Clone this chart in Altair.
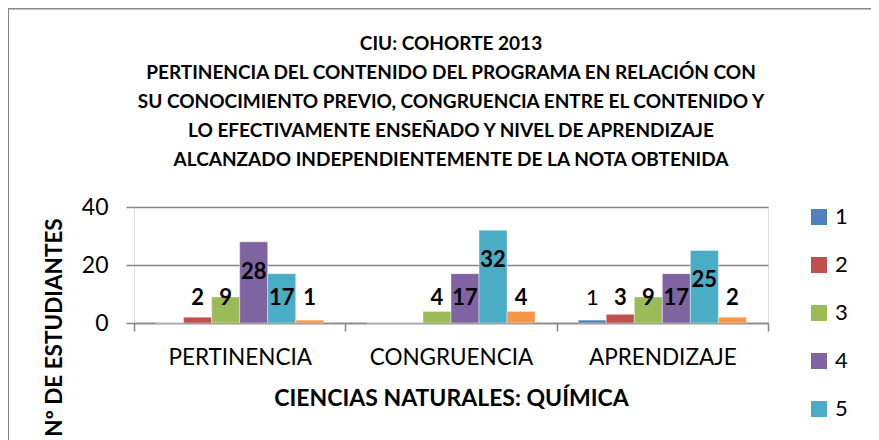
import altair as alt
import pandas as pd

categories = ["PERTINENCIA", "CONGRUENCIA", "APRENDIZAJE"]
series = ["1", "2", "3", "4", "5", "6"]
s1 = [0, 0, 1]
s2 = [2, 0, 3]
s3 = [9, 4, 9]
s4 = [28, 17, 17]
s5 = [17, 32, 25]
s6 = [1, 4, 2]
colors = ["#4F81BD", "#C0504D", "#9BBB59", "#8064A2", "#4BACC6", "#F79646"]

title_lines = [
    "CIU: COHORTE 2013",
    "PERTINENCIA DEL CONTENIDO DEL PROGRAMA EN RELACIÓN CON",
    "SU CONOCIMIENTO PREVIO, CONGRUENCIA ENTRE EL CONTENIDO Y",
    "LO EFECTIVAMENTE ENSEÑADO Y NIVEL DE APRENDIZAJE",
    "ALCANZADO INDEPENDIENTEMENTE DE LA NOTA OBTENIDA",
]

rows = []
for s, vals in zip(series, [s1, s2, s3, s4, s5, s6]):
    for c, v in zip(categories, vals):
        rows.append({"category": c, "series": s, "value": v})
df = pd.DataFrame(rows)

FONT = "Lato"
GRID = "#868686"

x = alt.X("category:N", sort=categories,
          scale=alt.Scale(paddingInner=0, paddingOuter=0),
          axis=alt.Axis(title="CIENCIAS NATURALES: QUÍMICA", labelAngle=0,
                        tickBand="extent", tickSize=8, tickColor=GRID, tickWidth=1.5,
                        domainColor=GRID, domainWidth=1.5,
                        labelFont=FONT, labelFontSize=22.5, labelColor="black",
                        labelPadding=15, titleFont=FONT, titleFontSize=23,
                        titleFontWeight="bold", titleColor="black", titlePadding=19))
xo = alt.XOffset("series:N", sort=series,
                 scale=alt.Scale(paddingInner=0, paddingOuter=0.77))
y = alt.Y("value:Q", scale=alt.Scale(domain=[0, 40]),
          axis=alt.Axis(title="Nº DE ESTUDIANTES", values=[0, 20, 40],
                        domain=False, grid=True, gridColor=GRID, gridWidth=1.5,
                        tickSize=8, tickColor=GRID, tickWidth=1.5,
                        labelFont=FONT, labelFontSize=23, labelColor="black",
                        labelPadding=18, titleFont=FONT, titleFontSize=22.5,
                        titleFontWeight="bold", titleColor="black", titlePadding=15,
                        titleY=120))

base = alt.Chart(df)

bars = base.mark_bar(stroke="white", strokeOpacity=0.5, strokeWidth=0.8).encode(
    x=x, xOffset=xo, y=y,
    color=alt.Color("series:N", sort=series,
                    scale=alt.Scale(domain=series, range=colors),
                    legend=alt.Legend(title=None, orient="none", legendX=674, legendY=-1,
                                      symbolType="square", symbolSize=256,
                                      symbolStrokeWidth=0, labelFont=FONT,
                                      labelFontSize=22, labelColor="black",
                                      labelOffset=5, rowPadding=26)),
)

labels = base.transform_filter("datum.value > 0").transform_calculate(
    ly="datum.value >= 20 ? datum.value - 10.3 : 8.6"
)

text_bold = labels.transform_filter("datum.series != '1'").mark_text(
    font=FONT, fontSize=22, fontWeight="bold", color="black", baseline="middle"
).encode(x=x, xOffset=xo, y=alt.Y("ly:Q"), text="value:Q")

text_norm = labels.transform_filter("datum.series == '1'").mark_text(
    font=FONT, fontSize=22, fontWeight="normal", color="black", baseline="middle"
).encode(x=x, xOffset=xo, y=alt.Y("ly:Q"), text="value:Q")

frame = alt.Chart(pd.DataFrame({"a": [0]})).mark_rect(
    fillOpacity=0, stroke="#878787", strokeWidth=2
).encode(x=alt.value(-126), x2=alt.value(900), y=alt.value(-198.5), y2=alt.value(600))

chart = alt.layer(frame, bars, text_bold, text_norm).properties(
    width=634, height=116,
    padding={"left": 126, "top": 199, "right": 103, "bottom": 117},
    autosize=alt.AutoSizeParams(type="none"),
    title=alt.TitleParams(text=title_lines, font=FONT, fontSize=19, fontWeight="bold",
                          color="black", anchor="middle", lineHeight=29, offset=0,
                          dy=162),
).configure_view(stroke=None).configure(background="white")

chart.save("out.html", embed_options={"renderer": "svg", "actions": False})
